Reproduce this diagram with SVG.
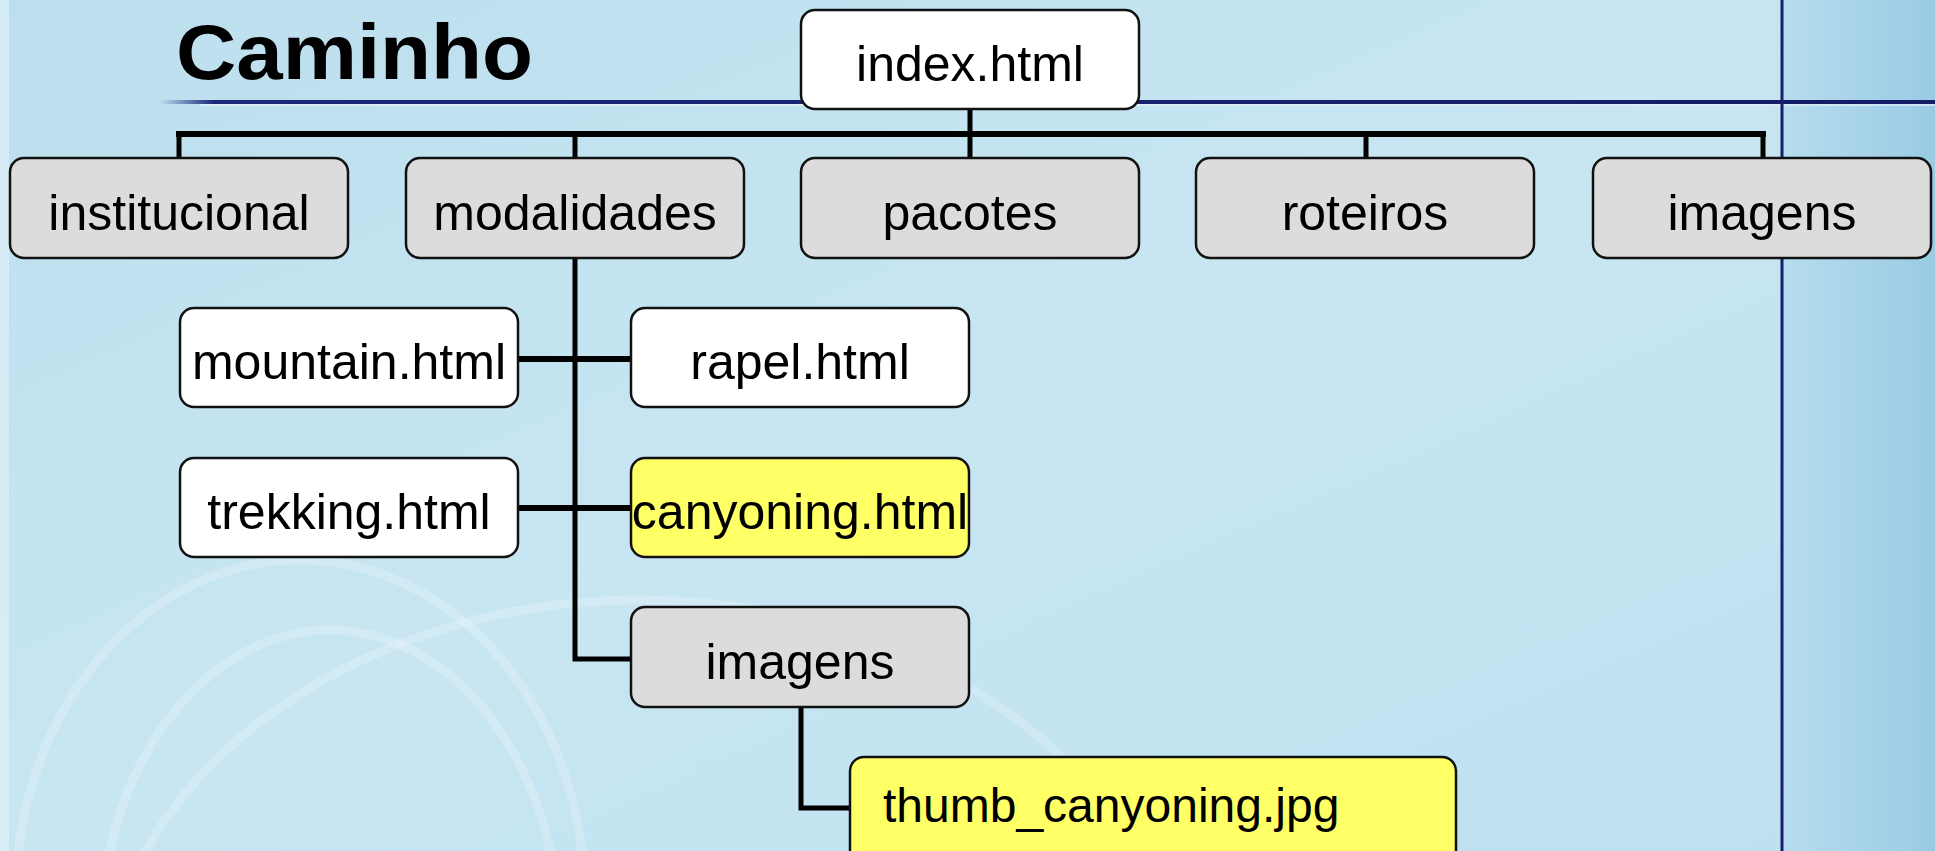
<svg xmlns="http://www.w3.org/2000/svg" width="1935" height="851" viewBox="0 0 1935 851">
  <style>
    .box { stroke: #111; stroke-width: 2.5; }
    .gray { fill: #dcdcdc; }
    .white { fill: #ffffff; }
    .yellow { fill: #ffff66; }
    .lbl { font-family: "Liberation Sans", Arial, sans-serif; font-size: 50px; fill: #000; text-anchor: middle; }
    .conn { stroke: #000; fill: none; stroke-linecap: square; }
  </style>
  <defs>
    <linearGradient id="bg" x1="0" y1="0" x2="1" y2="1">
      <stop offset="0" stop-color="#bcdfee"/>
      <stop offset="0.5" stop-color="#c8e6f2"/>
      <stop offset="1" stop-color="#bde0ef"/>
    </linearGradient>
    <linearGradient id="band" x1="0" y1="0" x2="1" y2="0">
      <stop offset="0" stop-color="#b6dcee"/>
      <stop offset="1" stop-color="#9acbe4"/>
    </linearGradient>
    <linearGradient id="hline" gradientUnits="userSpaceOnUse" x1="160" y1="0" x2="1935" y2="0">
      <stop offset="0" stop-color="#1a2a7a" stop-opacity="0"/>
      <stop offset="0.03" stop-color="#1a2a7a" stop-opacity="1"/>
      <stop offset="1" stop-color="#141c66"/>
    </linearGradient>
  </defs>

  <!-- background -->
  <rect x="0" y="0" width="1935" height="851" fill="url(#bg)"/>
  <rect x="1782" y="0" width="153" height="851" fill="url(#band)"/>
  <rect x="0" y="0" width="9" height="851" fill="#e4f2f8" opacity="0.6"/>
  <g fill="none" stroke="#ffffff" stroke-opacity="0.2" stroke-width="9">
    <ellipse cx="300" cy="900" rx="285" ry="340"/>
    <ellipse cx="330" cy="940" rx="230" ry="310"/>
    <ellipse cx="640" cy="1020" rx="540" ry="420"/>
  </g>
  <rect x="160" y="100" width="1775" height="4" fill="url(#hline)"/>
  <rect x="200" y="104" width="1735" height="2" fill="#e8f4fa" opacity="0.6"/>
  <rect x="1780.5" y="0" width="3" height="851" fill="#16206e"/>

  <!-- title -->
  <text x="176" y="79" font-family="Liberation Sans, Arial, sans-serif" font-weight="bold" font-size="78" textLength="357" lengthAdjust="spacingAndGlyphs" fill="#000">Caminho</text>

  <!-- connectors -->
  <g id="connectors" class="conn">
    <line x1="970" y1="109" x2="970" y2="134" stroke-width="5"/>
    <line x1="179" y1="134" x2="1763" y2="134" stroke-width="6"/>
    <line x1="179" y1="134" x2="179" y2="158" stroke-width="5"/>
    <line x1="575" y1="134" x2="575" y2="158" stroke-width="5"/>
    <line x1="970" y1="134" x2="970" y2="158" stroke-width="5"/>
    <line x1="1366" y1="134" x2="1366" y2="158" stroke-width="5"/>
    <line x1="1763" y1="134" x2="1763" y2="158" stroke-width="5"/>
    <path d="M575 258 V659 H631" stroke-width="5" stroke-linecap="butt"/>
    <line x1="518" y1="359" x2="631" y2="359" stroke-width="6" stroke-linecap="butt"/>
    <line x1="518" y1="508" x2="631" y2="508" stroke-width="6" stroke-linecap="butt"/>
    <path d="M801 707 V808 H850" stroke-width="5" stroke-linecap="butt"/>
  </g>

  <!-- nodes -->
  <g id="index">
    <rect class="box white" x="801" y="10" width="338" height="99" rx="14"/>
    <text class="lbl" x="970" y="81">index.html</text>
  </g>
  <g id="institucional">
    <rect class="box gray" x="10" y="158" width="338" height="100" rx="14"/>
    <text class="lbl" x="179" y="230">institucional</text>
  </g>
  <g id="modalidades">
    <rect class="box gray" x="406" y="158" width="338" height="100" rx="14"/>
    <text class="lbl" x="575" y="230">modalidades</text>
  </g>
  <g id="pacotes">
    <rect class="box gray" x="801" y="158" width="338" height="100" rx="14"/>
    <text class="lbl" x="970" y="230">pacotes</text>
  </g>
  <g id="roteiros">
    <rect class="box gray" x="1196" y="158" width="338" height="100" rx="14"/>
    <text class="lbl" x="1365" y="230">roteiros</text>
  </g>
  <g id="imagens">
    <rect class="box gray" x="1593" y="158" width="338" height="100" rx="14"/>
    <text class="lbl" x="1762" y="230">imagens</text>
  </g>
  <g id="mountain">
    <rect class="box white" x="180" y="308" width="338" height="99" rx="14"/>
    <text class="lbl" x="349" y="379">mountain.html</text>
  </g>
  <g id="rapel">
    <rect class="box white" x="631" y="308" width="338" height="99" rx="14"/>
    <text class="lbl" x="800" y="379">rapel.html</text>
  </g>
  <g id="trekking">
    <rect class="box white" x="180" y="458" width="338" height="99" rx="14"/>
    <text class="lbl" x="349" y="529">trekking.html</text>
  </g>
  <g id="canyoning">
    <rect class="box yellow" x="631" y="458" width="338" height="99" rx="14"/>
    <text class="lbl" x="800" y="529">canyoning.html</text>
  </g>
  <g id="imagens-sub">
    <rect class="box gray" x="631" y="607" width="338" height="100" rx="14"/>
    <text class="lbl" x="800" y="679">imagens</text>
  </g>
  <g id="thumb">
    <rect class="box yellow" x="850" y="757" width="606" height="120" rx="14"/>
    <text class="lbl" x="883" y="822" style="text-anchor:start;font-size:48px">thumb_canyoning.jpg</text>
  </g>
</svg>
